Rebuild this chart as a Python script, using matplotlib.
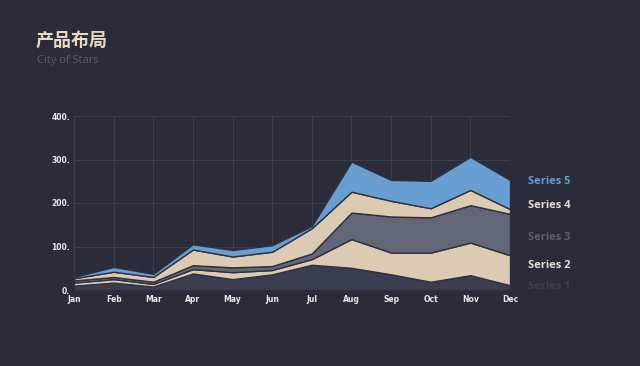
import matplotlib
matplotlib.use("Agg")
import matplotlib.pyplot as plt
import numpy as np

plt.rcParams['font.family'] = ['Noto Sans CJK SC', 'DejaVu Sans']

months = ["Jan", "Feb", "Mar", "Apr", "May", "Jun", "Jul", "Aug", "Sep", "Oct", "Nov", "Dec"]
series1 = [10, 17, 8, 38, 25, 36, 58, 51, 36, 19, 34, 11]
series2 = [7, 8, 6, 10, 16, 10, 13, 66, 50, 67, 75, 69]
series3 = [5, 5, 5, 9, 11, 9, 13, 61, 83, 81, 86, 95]
series4 = [5, 12, 11, 36, 25, 33, 58, 48, 36, 21, 35, 11]
series5 = [3, 11, 7, 12, 15, 15, 5, 69, 48, 63, 76, 67]
series_names = ["Series 1", "Series 2", "Series 3", "Series 4", "Series 5"]
yticks = [0, 100, 200, 300, 400]

colors = ["#3b3d51", "#dccab2", "#636677", "#dccab2", "#679fd3"]
label_colors = ["#3d3f52", "#e6ddd0", "#5d606f", "#e6ddd0", "#6a9bd0"]
label_y = [7, 57, 120, 195, 250]

bg = "#2a2c39"
fig = plt.figure(figsize=(6.4, 3.66), dpi=100, facecolor=bg)
ax = fig.add_axes([74/640, 1-290/366, (510-74)/640, (290-116)/366])
ax.set_facecolor(bg)

x = np.arange(len(months))
data = [series1, series2, series3, series4, series5]
ax.stackplot(x, *data, colors=colors, edgecolor="#2f3140", linewidth=1.0, zorder=3)

ax.set_xlim(0, len(months) - 1)
ax.set_ylim(0, 400)
ax.set_yticks(yticks)
ax.set_yticklabels([f"{v}." for v in yticks])
ax.set_xticks(x)
ax.set_xticklabels(months)
ax.grid(True, color="#3c3f4f", linewidth=0.7, zorder=0)
for s in ax.spines.values():
    s.set_visible(False)
ax.tick_params(length=0, pad=2, labelsize=5.5, labelcolor="#e8e8ec")
ax.tick_params(axis="x", pad=3.5)
ax.tick_params(axis="y", pad=3)
for t in ax.get_xticklabels() + ax.get_yticklabels():
    t.set_fontweight("bold")
    t.set_family(["DejaVu Sans"])

for name, c, yv in zip(series_names, label_colors, label_y):
    ax.text(1.042, yv, name, transform=ax.get_yaxis_transform(), color=c,
            fontsize=8, fontweight="bold", va="center", ha="left",
            family=["Open Sans", "DejaVu Sans"], clip_on=False)

fig.text(36/640, 1-40/366, "产品布局", color="#e9d8c2", fontsize=13,
         fontweight="bold", va="center", ha="left")
fig.text(37/640, 1-61/366, "City of Stars", color="#5b5e6c", fontsize=8,
         va="center", ha="left", family=["Open Sans", "DejaVu Sans"])

fig.savefig("out.png", dpi=100, facecolor=bg)
